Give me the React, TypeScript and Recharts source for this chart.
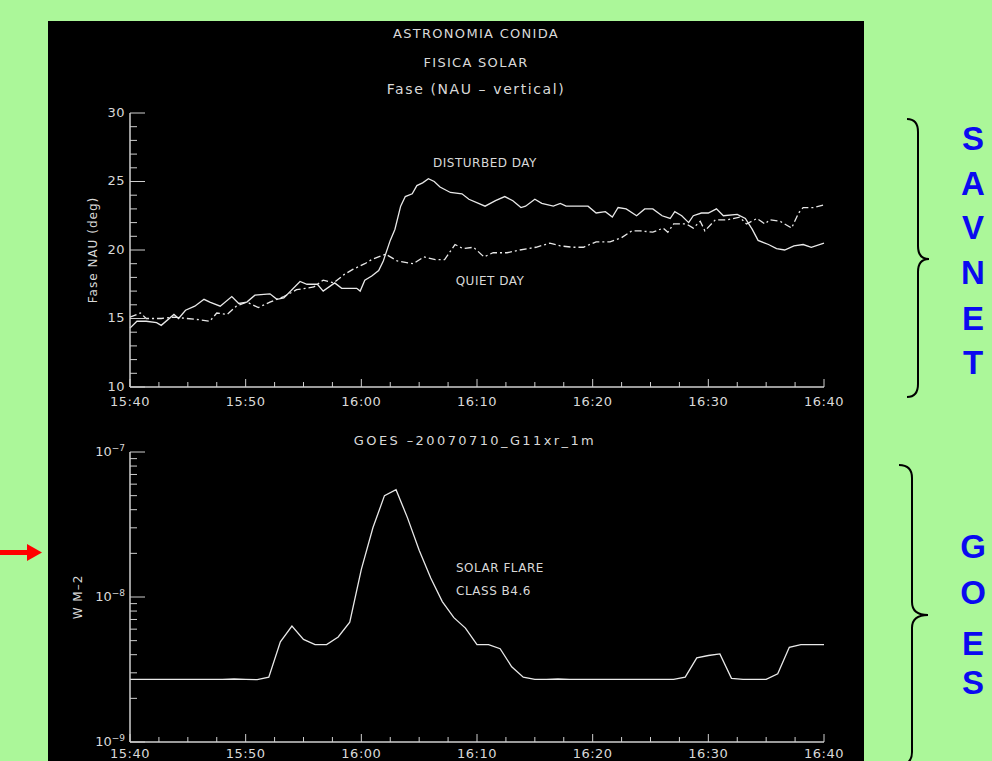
import { LineChart, Line, XAxis, YAxis } from "recharts";

// ---- data (minutes after 15:40 UT) ----
const disturbedTimes = [0, 0.6, 1.4, 2.3, 2.7, 3.8, 4.2, 4.8, 5.6, 6.4, 6.9, 7.8, 8.8, 9.4, 10.1, 10.8, 12.1, 12.7, 13.3, 14.7, 15.3, 16.2, 16.7, 17.7, 18.3, 19.6, 19.9, 20.3, 20.9, 21.5, 21.9, 22.5, 22.9, 23.4, 23.8, 24.4, 24.8, 25.3, 25.8, 26.3, 26.8, 27.7, 28.7, 29.3, 30.7, 31.6, 32.4, 33.1, 33.8, 34.2, 35.0, 35.6, 36.6, 37.2, 37.7, 39.6, 40.3, 41.1, 41.7, 42.2, 42.9, 43.8, 44.5, 45.2, 46.0, 46.7, 47.1, 47.7, 48.3, 48.7, 49.4, 50.0, 50.7, 51.3, 52.5, 53.2, 53.8, 54.3, 55.2, 55.9, 56.6, 57.4, 58.2, 58.9, 60];
const disturbedPhase = [14.3, 14.8, 14.8, 14.7, 14.5, 15.3, 15.0, 15.6, 15.9, 16.4, 16.2, 15.9, 16.6, 16.1, 16.2, 16.7, 16.8, 16.4, 16.5, 17.7, 17.5, 17.5, 17.0, 17.6, 17.2, 17.2, 17.0, 17.8, 18.1, 18.5, 19.2, 20.7, 21.5, 23.2, 23.9, 24.1, 24.7, 24.9, 25.2, 25.0, 24.6, 24.2, 24.1, 23.7, 23.2, 23.6, 23.9, 23.6, 23.1, 23.2, 23.7, 23.4, 23.2, 23.4, 23.2, 23.2, 22.7, 22.8, 22.4, 23.1, 23.0, 22.5, 23.0, 23.0, 22.5, 22.3, 22.8, 22.5, 22.0, 22.5, 22.7, 22.7, 23.0, 22.5, 22.6, 22.3, 21.5, 20.7, 20.4, 20.1, 20.0, 20.3, 20.4, 20.2, 20.5];

const quietTimes = [0, 0.9, 1.4, 2.7, 3.8, 4.9, 6.1, 6.9, 7.5, 8.4, 9.2, 10.1, 11.1, 12.1, 13.3, 14.4, 15.9, 16.7, 17.6, 18.5, 19.3, 20.3, 20.9, 22.1, 23.1, 24.5, 25.4, 26.4, 27.2, 28.1, 28.8, 29.7, 30.6, 31.4, 32.6, 33.7, 35.1, 36.3, 37.2, 38.3, 39.2, 40.3, 41.5, 42.5, 43.4, 44.1, 45.2, 46.1, 46.5, 47.0, 48.1, 48.7, 49.3, 49.7, 50.6, 51.6, 52.7, 53.3, 54.2, 54.9, 55.3, 56.2, 57.2, 57.8, 58.2, 59.1, 60];
const quietPhase = [15.1, 15.4, 15.0, 15.0, 15.1, 15.0, 14.9, 14.8, 15.4, 15.3, 15.9, 16.2, 15.8, 16.2, 16.6, 17.1, 17.3, 17.8, 17.6, 18.2, 18.6, 19.0, 19.3, 19.7, 19.2, 19.0, 19.5, 19.3, 19.3, 20.4, 20.1, 20.2, 19.5, 19.8, 19.8, 20.0, 20.2, 20.5, 20.3, 20.2, 20.2, 20.6, 20.6, 20.9, 21.4, 21.4, 21.3, 21.6, 21.3, 21.9, 21.9, 21.6, 22.1, 21.4, 22.2, 22.2, 22.4, 21.9, 22.3, 21.9, 22.2, 22.1, 21.6, 22.7, 23.1, 23.1, 23.3];

// GOES 1-minute X-ray flux, W m-2
const goesTimes = [0, 1, 2, 3, 4, 5, 6, 7, 8, 9, 10, 11, 12, 13, 14, 15, 16, 17, 18, 19, 20, 21, 22, 23, 24, 25, 26, 27, 28, 29, 30, 31, 32, 33, 34, 35, 36, 37, 38, 39, 40, 41, 42, 43, 44, 45, 46, 47, 48, 49, 50, 51, 52, 53, 54, 55, 56, 57, 58, 59, 60];
const goesFlux = [2.7e-9, 2.7e-9, 2.7e-9, 2.7e-9, 2.7e-9, 2.7e-9, 2.7e-9, 2.7e-9, 2.7e-9, 2.72e-9, 2.7e-9, 2.69e-9, 2.8e-9, 4.9e-9, 6.3e-9, 5.1e-9, 4.7e-9, 4.7e-9, 5.3e-9, 6.7e-9, 1.55e-8, 3.0e-8, 5.0e-8, 5.5e-8, 3.5e-8, 2.1e-8, 1.35e-8, 9.3e-9, 7.2e-9, 6.1e-9, 4.7e-9, 4.7e-9, 4.4e-9, 3.3e-9, 2.8e-9, 2.7e-9, 2.7e-9, 2.72e-9, 2.7e-9, 2.7e-9, 2.7e-9, 2.7e-9, 2.7e-9, 2.7e-9, 2.7e-9, 2.7e-9, 2.7e-9, 2.7e-9, 2.8e-9, 3.8e-9, 3.95e-9, 4.05e-9, 2.75e-9, 2.7e-9, 2.7e-9, 2.7e-9, 2.95e-9, 4.5e-9, 4.7e-9, 4.7e-9, 4.7e-9];

const timeTicks = [0, 2.5, 5, 7.5, 10, 12.5, 15, 17.5, 20, 22.5, 25, 27.5, 30, 32.5, 35, 37.5, 40, 42.5, 45, 47.5, 50, 52.5, 55, 57.5, 60];
const phaseTicks = [10, 11, 12, 13, 14, 15, 16, 17, 18, 19, 20, 21, 22, 23, 24, 25, 26, 27, 28, 29, 30];
const fluxTicks = [1e-9, 2e-9, 3e-9, 4e-9, 5e-9, 6e-9, 7e-9, 8e-9, 9e-9, 1e-8, 2e-8, 3e-8, 4e-8, 5e-8, 6e-8, 7e-8, 8e-8, 9e-8, 1e-7];

const disturbedData = disturbedTimes.map((t, i) => ({ t, v: disturbedPhase[i] }));
const quietData = quietTimes.map((t, i) => ({ t, v: quietPhase[i] }));
const goesData = goesTimes.map((t, i) => ({ t, v: goesFlux[i] }));

const INK = "#d9d9d9";
const AXIS = "#cfcfcf";
const LINE = "#e8e8e8";
const FONT = "'DejaVu Sans', sans-serif";

const fmtTime = (t: number) => {
  const m = 40 + t;
  const h = 15 + Math.floor(m / 60);
  return `${h}:${String(m % 60).padStart(2, "0")}`;
};

// dir 1 = bottom axis (tick goes up), -1 = top axis (tick goes down)
const xTick = (dir: number, labels: boolean, dy = 19) => (p: any) => {
  const major = p.payload.value % 10 === 0;
  const len = major ? 8 : 5;
  return (
    <g>
      <line x1={p.x} x2={p.x} y1={p.y} y2={p.y - dir * len} stroke={AXIS} />
      {labels && major && (
        <text x={p.x} y={p.y + dy} textAnchor="middle" fill={INK} fontSize={13} fontFamily={FONT} letterSpacing={0.5}>
          {fmtTime(p.payload.value)}
        </text>
      )}
    </g>
  );
};

// dir 1 = left axis (tick goes right), -1 = right axis
const phaseTick = (dir: number, labels: boolean) => (p: any) => {
  const major = p.payload.value % 5 === 0;
  return (
    <g>
      <line x1={p.x} x2={p.x + dir * (major ? 15 : 7)} y1={p.y} y2={p.y} stroke={AXIS} />
      {labels && major && (
        <text x={p.x - 5} y={p.y + 3.5} textAnchor="end" fill={INK} fontSize={13} fontFamily={FONT} letterSpacing={0.5}>
          {p.payload.value}
        </text>
      )}
    </g>
  );
};

const isDecade = (v: number) => Math.abs(Math.log10(v) - Math.round(Math.log10(v))) < 1e-6;

const fluxTick = (dir: number, labels: boolean) => (p: any) => {
  const major = isDecade(p.payload.value);
  const exp = Math.round(Math.log10(p.payload.value));
  return (
    <g>
      <line x1={p.x} x2={p.x + dir * (major ? 15 : 7)} y1={p.y} y2={p.y} stroke={AXIS} />
      {labels && major && (
        <text x={p.x - 5} y={p.y + 3.5} textAnchor="end" fill={INK} fontSize={13} fontFamily={FONT}>
          10<tspan dy={-5} fontSize={9}>{`\u2212${-exp}`}</tspan>
        </text>
      )}
    </g>
  );
};

const axisLine = { stroke: AXIS, strokeWidth: 1.5 };

function PhaseChart() {
  return (
    <LineChart width={992} height={421} margin={{ top: 113, right: 168, bottom: 0, left: 0 }}>
      <XAxis xAxisId="b" dataKey="t" type="number" domain={[0, 60]} ticks={timeTicks} interval={0}
        height={34} tickSize={0} tickMargin={0} axisLine={axisLine} tickLine={false} tick={xTick(1, true)} />
      <XAxis xAxisId="t" orientation="top" dataKey="t" type="number" domain={[0, 60]} ticks={timeTicks} interval={0}
        height={0} tickSize={0} tickMargin={0} axisLine={axisLine} tickLine={false} tick={xTick(-1, false)} />
      <YAxis yAxisId="l" type="number" domain={[10, 30]} ticks={phaseTicks} interval={0}
        width={130} tickSize={0} tickMargin={0} axisLine={axisLine} tickLine={false} tick={phaseTick(1, true)} />
      <YAxis yAxisId="r" orientation="right" type="number" domain={[10, 30]} ticks={phaseTicks} interval={0}
        width={0} tickSize={0} tickMargin={0} axisLine={axisLine} tickLine={false} tick={phaseTick(-1, false)} />
      <Line xAxisId="b" yAxisId="l" data={disturbedData} dataKey="v" type="linear" stroke={LINE}
        strokeWidth={1.3} dot={false} isAnimationActive={false} />
      <Line xAxisId="b" yAxisId="l" data={quietData} dataKey="v" type="linear" stroke={LINE}
        strokeWidth={1.3} strokeDasharray="7 3 2 3" dot={false} isAnimationActive={false} />
    </LineChart>
  );
}

function GoesChart() {
  return (
    <LineChart width={992} height={340} margin={{ top: 31, right: 168, bottom: 0, left: 0 }}>
      <XAxis xAxisId="b" dataKey="t" type="number" domain={[0, 60]} ticks={timeTicks} interval={0}
        height={19} tickSize={0} tickMargin={0} axisLine={axisLine} tickLine={false} tick={xTick(1, true, 16)} />
      <XAxis xAxisId="t" orientation="top" dataKey="t" type="number" domain={[0, 60]} ticks={timeTicks} interval={0}
        height={0} tickSize={0} tickMargin={0} axisLine={axisLine} tickLine={false} tick={xTick(-1, false)} />
      <YAxis yAxisId="l" type="number" scale="log" domain={[1e-9, 1e-7]} allowDataOverflow ticks={fluxTicks} interval={0}
        width={130} tickSize={0} tickMargin={0} axisLine={axisLine} tickLine={false} tick={fluxTick(1, true)} />
      <YAxis yAxisId="r" orientation="right" type="number" scale="log" domain={[1e-9, 1e-7]} allowDataOverflow ticks={fluxTicks} interval={0}
        width={0} tickSize={0} tickMargin={0} axisLine={axisLine} tickLine={false} tick={fluxTick(-1, false)} />
      <Line xAxisId="b" yAxisId="l" data={goesData} dataKey="v" type="linear" stroke={LINE}
        strokeWidth={1.3} dot={false} isAnimationActive={false} />
    </LineChart>
  );
}

const savnet = ["S", "A", "V", "N", "E", "T"];
const savnetY = [138, 183, 227, 272, 318, 362];
const goes = ["G", "O", "E", "S"];
const goesY = [546, 592, 643, 682];

export default function App() {
  const txt = { fill: INK, fontFamily: FONT, fontSize: 13, letterSpacing: 1, textAnchor: "middle" as const, dominantBaseline: "central" as const };
  return (
    <div style={{ position: "fixed", left: 0, top: 0, width: 992, height: 761, background: "#abf799", overflow: "hidden" }}>
      <div style={{ position: "absolute", left: 48, top: 21, width: 816, height: 740, background: "#000" }} />
      <div style={{ position: "absolute", left: 0, top: 0 }}>
        <PhaseChart />
      </div>
      <div style={{ position: "absolute", left: 0, top: 421 }}>
        <GoesChart />
      </div>
      <svg width={992} height={761} style={{ position: "absolute", left: 0, top: 0, pointerEvents: "none" }}>
        <text x={476} y={33} {...txt} letterSpacing={1.3}>ASTRONOMIA CONIDA</text>
        <text x={476} y={62} {...txt} letterSpacing={1.3}>FISICA SOLAR</text>
        <text x={476} y={89} {...txt} fontSize={14} letterSpacing={1.6}>Fase (NAU – vertical)</text>
        <text x={475} y={440} {...txt} letterSpacing={2.4}>GOES –20070710_G11xr_1m</text>
        <text x={93} y={250} {...txt} fontSize={12} transform="rotate(-90 93 250)">Fase NAU (deg)</text>
        <text x={78} y={597} {...txt} fontSize={12} transform="rotate(-90 78 597)">W M–2</text>
        <text x={485} y={163} {...txt} fontSize={12} letterSpacing={0.5}>DISTURBED DAY</text>
        <text x={490} y={281} {...txt} fontSize={12} letterSpacing={0.5}>QUIET DAY</text>
        <text x={456} y={568} {...txt} fontSize={12} letterSpacing={0.5} textAnchor="start">SOLAR FLARE</text>
        <text x={456} y={591} {...txt} fontSize={12} letterSpacing={0.5} textAnchor="start">CLASS B4.6</text>

        <path d="M 907 119 Q 918 119 918 132 L 918 246 Q 918 259 929 259 Q 918 259 918 272 L 918 384 Q 918 397 907 397"
          stroke="#000" strokeWidth={2} fill="none" />
        <path d="M 899 465 Q 912 465 912 478 L 912 602 Q 912 615 928 615 Q 912 615 912 628 L 912 752 Q 912 765 899 765"
          stroke="#000" strokeWidth={2} fill="none" />
        {savnet.map((c, i) => (
          <text key={"s" + i} x={973} y={savnetY[i]} textAnchor="middle" dominantBaseline="central"
            fill="#0a0af0" fontFamily="'Liberation Sans', Arial, sans-serif" fontWeight="bold" fontSize={33}>{c}</text>
        ))}
        {goes.map((c, i) => (
          <text key={"g" + i} x={973} y={goesY[i]} textAnchor="middle" dominantBaseline="central"
            fill="#0a0af0" fontFamily="'Liberation Sans', Arial, sans-serif" fontWeight="bold" fontSize={33}>{c}</text>
        ))}
        <rect x={0} y={550} width={29} height={5} fill="#ff0000" />
        <polygon points="27,544 42,552.5 27,561" fill="#ff0000" />
      </svg>
    </div>
  );
}
